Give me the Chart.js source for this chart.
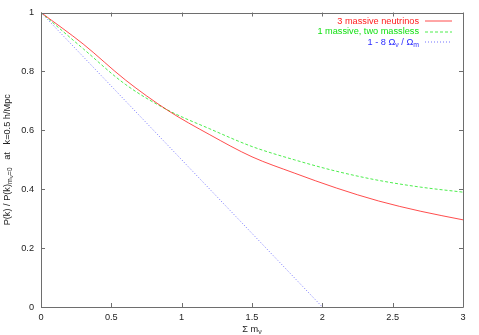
<!DOCTYPE html>
<html>
<head>
<meta charset="utf-8">
<script src="https://cdn.jsdelivr.net/npm/chart.js@4/dist/chart.umd.min.js"></script>
<style>
  html, body { margin: 0; padding: 0; background: #fff; }
  #wrap { width: 479px; height: 335px; }
</style>
</head>
<body>
<div id="wrap"><canvas id="chart"></canvas></div>
<script>
// sum of neutrino masses (eV)
const masses = [0, 0.3, 0.6, 0.9, 1.2, 1.5, 1.8, 2.1, 2.4, 2.7, 3.0];
const threeMassive = [1.0, 0.893, 0.771, 0.668, 0.585, 0.510, 0.455, 0.404, 0.360, 0.325, 0.296];
const oneMassive = [1.0, 0.877, 0.756, 0.669, 0.605, 0.545, 0.500, 0.461, 0.430, 0.407, 0.390];
const linearMass = [0, 2];
const linearRatio = [1, 0];

const xTicks = [0, 0.5, 1, 1.5, 2, 2.5, 3];
const yTicks = [0, 0.2, 0.4, 0.6, 0.8, 1];

const FONT = '"Liberation Sans", Arial, sans-serif';
const RED = '#ff2020', GREEN = '#10e010', BLUE = '#2a2aff';
const RED_LINE = 'rgba(255,0,0,0.7)', GREEN_LINE = 'rgba(0,230,0,0.7)', BLUE_LINE = 'rgba(40,40,255,0.65)';
const toPoints = (xs, ys) => xs.map((x, i) => ({ x: x, y: ys[i] }));

// draws text pieces with sub/superscripts, returns width
function richText(ctx, parts, x, y, size, measureOnly) {
    let w = 0;
    parts.forEach(p => {
        const s = p.sub === 2 ? size * 0.65 : (p.sub ? size * 0.75 : size);
        const dy = p.sub === 2 ? size * 0.5 : (p.sub ? size * 0.3 : 0);
        ctx.font = s + 'px ' + FONT;
        if (!measureOnly) ctx.fillText(p.t, x + w, y + dy);
        w += ctx.measureText(p.t).width;
    });
    return w;
}

const gnuplotFrame = {
    id: 'gnuplotFrame',
    afterDraw(chart) {
        const ctx = chart.ctx;
        const a = chart.chartArea;
        const xs = chart.scales.x, ys = chart.scales.y;
        ctx.save();
        ctx.strokeStyle = '#6e6e6e';
        ctx.lineWidth = 1;
        ctx.beginPath();
        ctx.rect(Math.round(a.left) + 0.5, Math.round(a.top) + 0.5,
            Math.round(a.right - a.left), Math.round(a.bottom - a.top));
        xTicks.forEach(v => {
            const px = Math.round(xs.getPixelForValue(v)) + 0.5;
            ctx.moveTo(px, a.bottom); ctx.lineTo(px, a.bottom - 4);
            ctx.moveTo(px, a.top); ctx.lineTo(px, a.top + 4);
        });
        yTicks.forEach(v => {
            const py = Math.round(ys.getPixelForValue(v)) + 0.5;
            ctx.moveTo(a.left, py); ctx.lineTo(a.left + 4, py);
            ctx.moveTo(a.right, py); ctx.lineTo(a.right - 4, py);
        });
        ctx.stroke();

        // axis titles
        ctx.fillStyle = '#222';
        ctx.textBaseline = 'middle';
        const xt = [{ t: '\u03A3 m' }, { t: '\u03BD', sub: 1 }];
        const xw = richText(ctx, xt, 0, 0, 9.2, true);
        richText(ctx, xt, (a.left + a.right) / 2 - xw / 2, 329, 9.2);

        const yt = [{ t: 'P(k) / P(k)' }, { t: 'm', sub: 1 }, { t: '\u03BD', sub: 2 },
            { t: '=0', sub: 1 }, { t: '   at   k=0.5 h/Mpc' }];
        const yw = richText(ctx, yt, 0, 0, 9.2, true);
        ctx.translate(7, (a.top + a.bottom) / 2);
        ctx.rotate(-Math.PI / 2);
        richText(ctx, yt, -yw / 2, 0, 9.2);
        ctx.restore();

        // key, top right
        const keys = [
            { parts: [{ t: '3 massive neutrinos' }], color: RED, line: RED_LINE, dash: [] },
            { parts: [{ t: '1 massive, two massless' }], color: GREEN, line: GREEN_LINE, dash: [3, 2] },
            { parts: [{ t: '1 - 8 \u03A9' }, { t: '\u03BD', sub: 1 }, { t: ' / \u03A9' }, { t: 'm', sub: 1 }],
              color: BLUE, line: BLUE_LINE, dash: [1, 2] }
        ];
        keys.forEach((k, i) => {
            const y = 21 + i * 10.7;
            ctx.save();
            ctx.textBaseline = 'middle';
            ctx.fillStyle = k.color;
            const w = richText(ctx, k.parts, 0, 0, 9.2, true);
            richText(ctx, k.parts, 419 - w, y, 9.2);
            ctx.lineWidth = 1;
            ctx.strokeStyle = k.line;
            ctx.setLineDash(k.dash);
            ctx.beginPath();
            ctx.moveTo(425, Math.round(y));
            ctx.lineTo(452, Math.round(y));
            ctx.stroke();
            ctx.restore();
        });
    }
};

new Chart(document.getElementById('chart'), {
    type: 'scatter',
    data: {
        datasets: [
            {
                label: '3 massive neutrinos',
                data: toPoints(masses, threeMassive),
                showLine: true, borderColor: RED_LINE, borderWidth: 1,
                pointRadius: 0, cubicInterpolationMode: 'monotone'
            },
            {
                label: '1 massive, two massless',
                data: toPoints(masses, oneMassive),
                showLine: true, borderColor: GREEN_LINE, borderWidth: 1,
                borderDash: [3, 2], pointRadius: 0, cubicInterpolationMode: 'monotone'
            },
            {
                label: '1 - 8 Omega_nu / Omega_m',
                data: toPoints(linearMass, linearRatio),
                showLine: true, borderColor: BLUE_LINE, borderWidth: 1,
                borderDash: [1, 2], pointRadius: 0, tension: 0
            }
        ]
    },
    options: {
        responsive: true,
        maintainAspectRatio: false,
        animation: false,
        layout: { padding: { top: 12, right: 16, left: 0, bottom: 0 } },
        plugins: { legend: { display: false }, tooltip: { enabled: false } },
        scales: {
            x: {
                type: 'linear', min: 0, max: 3,
                grid: { display: false, drawTicks: false },
                border: { display: false },
                afterFit: s => { s.height = 28; },
                afterBuildTicks: s => { s.ticks = xTicks.map(v => ({ value: v })); },
                ticks: {
                    padding: 5, color: '#222', maxRotation: 0,
                    font: { family: FONT, size: 9.2 },
                    callback: v => String(v)
                }
            },
            y: {
                type: 'linear', min: 0, max: 1,
                grid: { display: false, drawTicks: false },
                border: { display: false },
                afterFit: s => { s.width = 41; },
                afterBuildTicks: s => { s.ticks = yTicks.map(v => ({ value: v })); },
                ticks: {
                    padding: 7, color: '#222',
                    font: { family: FONT, size: 9.2 },
                    callback: v => String(v)
                }
            }
        }
    },
    plugins: [gnuplotFrame]
});
</script>
</body>
</html>
